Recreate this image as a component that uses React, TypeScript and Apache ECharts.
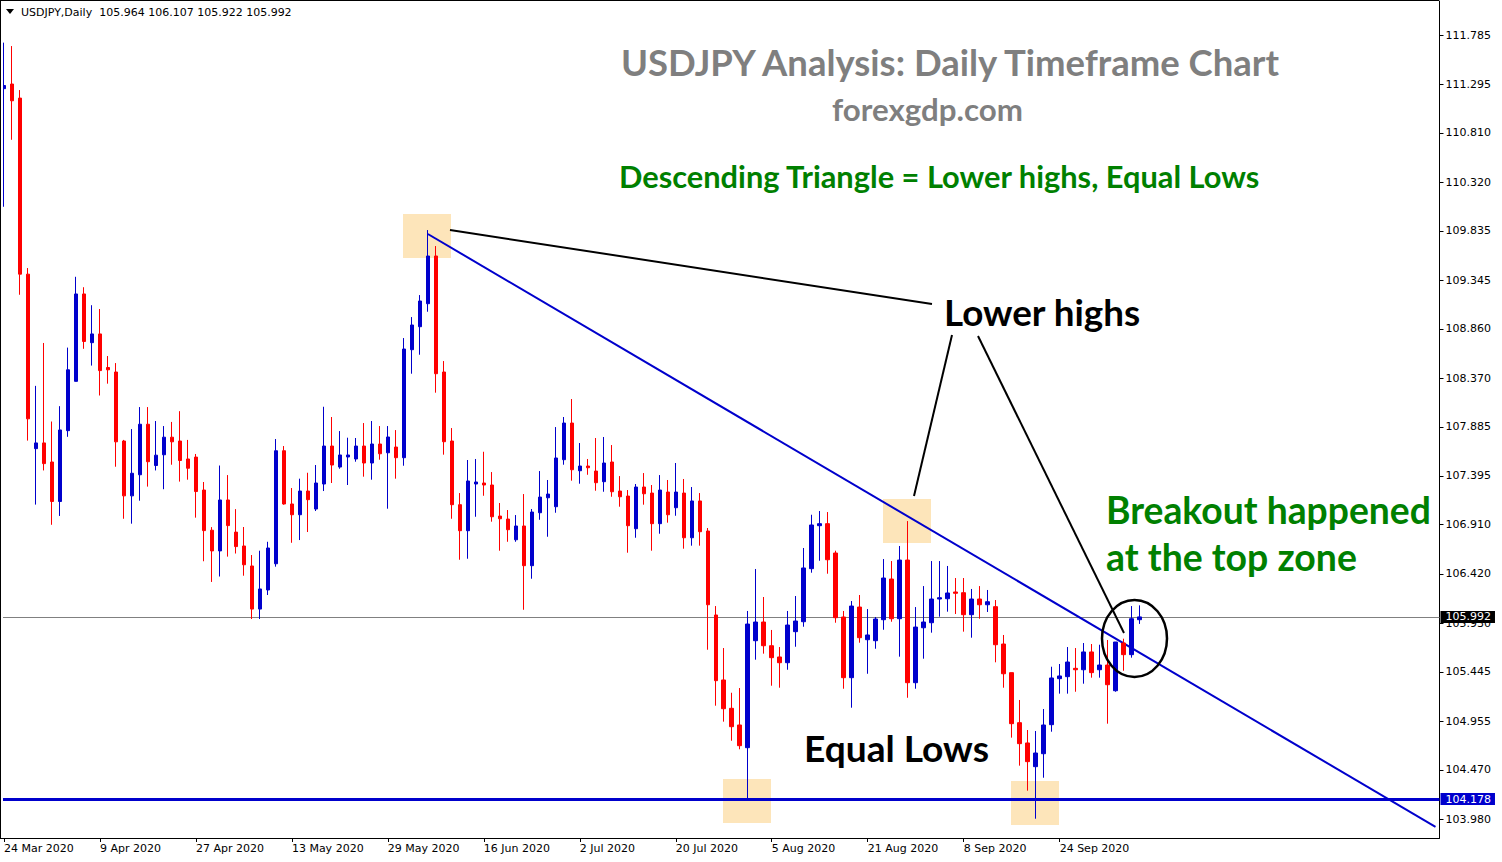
import React, { useEffect, useRef } from "react";
import * as echarts from "echarts";

// ---------- data ----------
const xTickLabels = [
  "24 Mar 2020", "9 Apr 2020", "27 Apr 2020", "13 May 2020", "29 May 2020", "16 Jun 2020",
  "2 Jul 2020", "20 Jul 2020", "5 Aug 2020", "21 Aug 2020", "8 Sep 2020", "24 Sep 2020",
];

const yTickValues = [
  111.785, 111.295, 110.81, 110.32, 109.835, 109.345, 108.86, 108.37, 107.885,
  107.395, 106.91, 106.42, 105.93, 105.445, 104.955, 104.47, 103.98,
];

const opens = [
  111.251, 111.297, 111.157, 109.404, 107.667, 107.724, 107.534, 107.141, 107.846, 108.337,
  109.207, 108.722, 108.809, 108.475, 108.430, 107.743, 107.197, 107.407, 107.910, 107.499,
  107.606, 107.781, 107.743, 107.564, 107.583, 107.255, 106.855, 106.649, 107.156, 106.836,
  106.698, 106.499, 106.070, 106.260, 106.521, 107.646, 107.116, 107.009, 107.245, 107.066,
  107.315, 107.693, 107.484, 107.584, 107.564, 107.693, 107.524, 107.713, 107.626, 107.683,
  107.577, 108.652, 108.881, 109.110, 109.585, 108.430, 107.743, 107.109, 106.850, 107.315,
  107.325, 107.305, 106.996, 106.966, 106.760, 106.897, 106.502, 107.029, 107.178, 107.089,
  107.557, 107.922, 107.447, 107.494, 107.444, 107.338, 107.534, 107.245, 107.195, 106.870,
  107.285, 107.225, 106.920, 107.235, 107.079, 107.225, 106.780, 107.146, 106.847, 106.011,
  105.364, 105.082, 104.916, 104.690, 105.755, 105.941, 105.705, 105.593, 105.536, 105.845,
  105.944, 106.472, 106.900, 106.920, 106.628, 105.991, 105.387, 106.090, 105.765, 105.755,
  105.964, 106.369, 105.974, 106.558, 105.337, 105.884, 105.934, 106.170, 106.173, 106.240,
  106.233, 106.014, 106.170, 106.113, 106.094, 105.722, 105.437, 104.939, 104.737, 104.501,
  104.630, 104.919, 105.377, 105.397, 105.480, 105.466, 105.643, 105.466, 105.513, 105.257,
  105.732, 105.616, 105.964,
];

const highs = [
  111.709, 111.675, 111.237, 109.465, 108.292, 108.719, 107.937, 108.090, 108.673, 109.378,
  109.274, 109.095, 109.057, 108.589, 108.519, 107.754, 107.862, 108.081, 108.081, 107.942,
  107.892, 107.933, 108.040, 107.754, 107.614, 107.335, 106.886, 107.499, 107.404, 107.065,
  106.887, 106.608, 106.651, 106.740, 107.763, 107.693, 107.275, 107.368, 107.427, 107.504,
  108.084, 107.982, 107.842, 107.776, 107.773, 107.922, 107.942, 107.892, 107.892, 107.852,
  108.768, 108.977, 109.196, 109.843, 109.684, 108.539, 107.872, 107.225, 107.554, 107.564,
  107.636, 107.434, 107.126, 107.056, 107.006, 107.215, 107.066, 107.444, 107.355, 107.882,
  107.982, 108.161, 107.723, 107.564, 107.773, 107.783, 107.703, 107.394, 107.255, 107.315,
  107.424, 107.305, 107.404, 107.355, 107.524, 107.365, 107.285, 107.225, 106.877, 106.100,
  105.682, 105.237, 105.284, 106.051, 106.469, 106.190, 105.862, 105.692, 106.051, 106.200,
  106.678, 107.009, 107.046, 107.036, 106.651, 106.051, 106.150, 106.210, 106.070, 105.991,
  106.568, 106.548, 106.698, 106.946, 106.090, 106.299, 106.548, 106.548, 106.499, 106.379,
  106.379, 106.270, 106.299, 106.260, 106.160, 105.812, 105.437, 105.165, 104.866, 104.856,
  105.075, 105.496, 105.523, 105.692, 105.682, 105.732, 105.722, 105.715, 105.762, 105.742,
  105.775, 106.100, 106.107,
];

const lows = [
  110.075, 110.742, 109.199, 107.747, 107.110, 107.450, 106.909, 106.997, 107.785, 108.337,
  108.661, 108.494, 108.196, 108.314, 107.487, 106.969, 106.920, 107.149, 107.289, 107.450,
  107.263, 107.507, 107.339, 107.358, 106.980, 106.546, 106.340, 106.394, 106.592, 106.623,
  106.402, 105.971, 105.971, 106.210, 106.492, 107.109, 106.730, 106.757, 106.837, 107.046,
  107.245, 107.325, 107.467, 107.305, 107.537, 107.388, 107.358, 107.557, 107.069, 107.368,
  107.497, 108.413, 108.602, 109.030, 108.224, 107.607, 106.969, 106.561, 106.571, 106.989,
  107.198, 106.940, 106.651, 106.740, 106.740, 106.063, 106.372, 106.959, 106.790, 107.029,
  107.507, 107.348, 107.318, 107.407, 107.248, 107.238, 107.188, 107.089, 106.631, 106.780,
  107.109, 106.651, 106.820, 106.930, 106.999, 106.671, 106.701, 106.701, 105.665, 105.108,
  104.949, 104.759, 104.674, 104.180, 105.566, 105.626, 105.307, 105.287, 105.466, 105.695,
  105.894, 106.432, 106.551, 106.422, 105.934, 105.277, 105.088, 105.735, 105.426, 105.675,
  105.864, 105.944, 105.596, 105.187, 105.277, 105.576, 105.835, 105.994, 106.044, 106.021,
  105.845, 105.785, 105.974, 106.041, 105.540, 105.287, 104.790, 104.511, 104.262, 103.983,
  104.391, 104.849, 105.228, 105.228, 105.247, 105.327, 105.387, 105.387, 104.929, 105.247,
  105.456, 105.586, 105.922,
];

const closes = [
  111.282, 111.130, 109.404, 107.964, 107.724, 107.518, 107.141, 107.853, 108.452, 109.207,
  108.734, 108.809, 108.444, 108.452, 107.735, 107.197, 107.422, 107.910, 107.537, 107.602,
  107.781, 107.735, 107.549, 107.472, 107.240, 106.851, 106.649, 107.156, 106.901, 106.692,
  106.511, 106.070, 106.270, 106.678, 107.646, 107.116, 107.009, 107.245, 107.159, 107.325,
  107.693, 107.504, 107.604, 107.604, 107.693, 107.524, 107.713, 107.616, 107.783, 107.577,
  108.659, 108.898, 109.137, 109.585, 108.413, 107.736, 107.109, 106.850, 107.345, 107.335,
  107.305, 106.989, 106.969, 106.860, 106.897, 106.502, 107.036, 107.185, 107.215, 107.574,
  107.922, 107.457, 107.494, 107.477, 107.328, 107.524, 107.238, 107.188, 106.900, 107.285,
  107.218, 106.920, 107.255, 107.009, 107.235, 106.780, 107.146, 106.840, 106.113, 105.357,
  105.078, 104.899, 104.710, 105.921, 105.941, 105.705, 105.586, 105.536, 105.911, 105.951,
  106.479, 106.907, 106.920, 106.561, 105.984, 105.387, 106.100, 105.785, 105.812, 105.971,
  106.379, 105.974, 106.558, 105.337, 105.891, 105.941, 106.170, 106.183, 106.230, 106.227,
  106.014, 106.170, 106.113, 106.143, 105.715, 105.426, 104.929, 104.730, 104.551, 104.637,
  104.916, 105.384, 105.404, 105.543, 105.466, 105.643, 105.437, 105.513, 105.317, 105.742,
  105.616, 105.974, 105.992,
];

const currentPrice = 105.992;
const supportLevel = 104.178;
const trendStart = [53, 109.804];
const trendEnd = [179, 103.902];

const yMin = 103.7909;
const yMax = 112.1235;
const totalSlots = 180;

const MONTHS = ["Jan", "Feb", "Mar", "Apr", "May", "Jun", "Jul", "Aug", "Sep", "Oct", "Nov", "Dec"];

function weekdayDates(startUtc: number, n: number): string[] {
  const out: string[] = [];
  let t = startUtc;
  while (out.length < n) {
    const d = new Date(t);
    const wd = d.getUTCDay();
    if (wd !== 0 && wd !== 6) {
      out.push(`${d.getUTCDate()} ${MONTHS[d.getUTCMonth()]} ${d.getUTCFullYear()}`);
    }
    t += 86400000;
  }
  return out;
}

const categories = weekdayDates(Date.UTC(2020, 2, 24), totalSlots);

function fitSize(text: string, target: number, family = "Lato"): number {
  const c = document.createElement("canvas").getContext("2d");
  if (!c) return 32;
  c.font = `bold 100px ${family}`;
  const w = c.measureText(text).width;
  return (100 * target) / w;
}

export default function App() {
  const ref = useRef<HTMLDivElement>(null);

  useEffect(() => {
    document.body.style.margin = "0";
    if (!ref.current) return;
    const chart = echarts.init(ref.current, undefined, { renderer: "svg" });

    const data = opens.map((o, i) => [o, closes[i], lows[i], highs[i]]);
    const last = opens.length - 1;
    const header = `USDJPY,Daily  ${opens[last].toFixed(3)} ${highs[last].toFixed(3)} ${lows[last].toFixed(3)} ${closes[last].toFixed(3)}`;

    const showTick = (i: number) => i % 12 === 0 && i / 12 < xTickLabels.length;

    const ann = (text: string, left: number, baseline: number, width: number, color: string) => {
      const size = fitSize(text, width);
      return {
        type: "text",
        x: left,
        y: baseline - 0.36 * size,
        z: 100,
        style: {
          text,
          font: `bold ${size.toFixed(2)}px Lato`,
          fill: color,
          align: "left",
          verticalAlign: "middle",
        },
      };
    };

    const priceLabel = (bg: string, value: number) => ({
      show: true,
      position: "end",
      distance: 1,
      formatter: () => value.toFixed(3),
      backgroundColor: bg,
      color: "#fff",
      padding: [1, 4, 0, 5],
      fontSize: 11,
      fontFamily: "DejaVu Sans",
    });

    const peach = "#FDE5BA";
    const rect = (x: number, y: number) => ({
      type: "rect",
      z: 1,
      shape: { x, y, width: 48, height: 44 },
      style: { fill: peach },
    });
    const blackLine = (x1: number, y1: number, x2: number, y2: number) => ({
      type: "line",
      z: 100,
      shape: { x1, y1, x2, y2 },
      style: { stroke: "#000", lineWidth: 2 },
    });

    chart.setOption({
      animation: false,
      textStyle: { fontFamily: "DejaVu Sans" },
      grid: { left: -0.5, right: 62.5, top: 1, bottom: 24, containLabel: false },
      xAxis: {
        type: "category",
        data: categories,
        boundaryGap: true,
        axisLine: { show: true, lineStyle: { color: "#000", width: 1 } },
        axisTick: {
          show: true,
          alignWithLabel: true,
          interval: (i: number) => showTick(i),
          length: 4,
          lineStyle: { color: "#000" },
        },
        axisLabel: {
          interval: (i: number) => showTick(i),
          formatter: (_v: string, i: number) => xTickLabels[i / 12] ?? "",
          align: "left",
          margin: 5,
          fontSize: 11,
          color: "#000",
          fontFamily: "DejaVu Sans",
        },
        splitLine: { show: false },
      },
      yAxis: {
        type: "value",
        position: "right",
        min: yMin,
        max: yMax,
        scale: true,
        axisLine: { show: true, lineStyle: { color: "#000", width: 1 } },
        axisTick: { show: true, customValues: yTickValues, length: 4, lineStyle: { color: "#000" } },
        axisLabel: {
          customValues: yTickValues,
          formatter: (v: number) => v.toFixed(3),
          margin: 6,
          fontSize: 11,
          color: "#000",
          fontFamily: "DejaVu Sans",
        },
        splitLine: { show: false },
      },
      series: [
        {
          type: "candlestick",
          data,
          barWidth: 4,
          clip: false,
          z: 5,
          itemStyle: {
            color: "#0000CC",
            color0: "#FF0000",
            borderColor: "#0000CC",
            borderColor0: "#FF0000",
            borderWidth: 1,
          },
          markLine: {
            symbol: ["none", "none"],
            silent: true,
            animation: false,
            precision: 3,
            data: [
              {
                yAxis: currentPrice,
                lineStyle: { color: "#808080", width: 1, type: "solid" },
                label: priceLabel("#000", currentPrice),
              },
              {
                yAxis: supportLevel,
                lineStyle: { color: "#0000CC", width: 3, type: "solid" },
                label: priceLabel("#0000CD", supportLevel),
              },
              [
                {
                  coord: trendStart,
                  lineStyle: { color: "#0000CC", width: 2, type: "solid" },
                  label: { show: false },
                },
                { coord: trendEnd },
              ],
            ],
          },
        },
      ],
      graphic: {
        elements: [
          rect(403, 214),
          rect(883, 499),
          rect(723, 779),
          rect(1011, 781),
          { type: "rect", z: 90, shape: { x: 0, y: 0, width: 3, height: 838 }, style: { fill: "#fff" } },
          { type: "line", z: 100, shape: { x1: 0.5, y1: 0, x2: 0.5, y2: 838 }, style: { stroke: "#000", lineWidth: 1 } },
          { type: "line", z: 100, shape: { x1: 0, y1: 0.5, x2: 1439, y2: 0.5 }, style: { stroke: "#000", lineWidth: 1 } },
          {
            type: "polygon",
            z: 100,
            shape: { points: [[6, 9], [14, 9], [10, 14]] },
            style: { fill: "#000" },
          },
          {
            type: "text",
            x: 21,
            y: 12,
            z: 100,
            style: { text: header, font: "11px DejaVu Sans", fill: "#000", align: "left", verticalAlign: "middle" },
          },
          blackLine(450, 230, 932, 304),
          blackLine(952, 335, 914, 496),
          blackLine(978, 336, 1124, 633),
          {
            type: "ellipse",
            z: 100,
            shape: { cx: 1134.5, cy: 638.5, rx: 32.5, ry: 38.5 },
            style: { stroke: "#000", lineWidth: 2.5, fill: "none" },
          },
          ann("USDJPY Analysis: Daily Timeframe Chart", 621, 75, 663, "#7F7F7F"),
          ann("forexgdp.com", 832, 120, 191, "#7F7F7F"),
          ann("Descending Triangle = Lower highs, Equal Lows", 619, 188, 642, "#008000"),
          ann("Lower highs", 944, 325, 197, "#000"),
          ann("Equal Lows", 804, 761, 185, "#000"),
          ann("Breakout happened", 1106, 523, 325, "#008000"),
          ann("at the top zone", 1106, 570, 251, "#008000"),
        ],
      },
    });

    return () => chart.dispose();
  }, []);

  return (
    <div
      ref={ref}
      style={{ position: "absolute", left: 0, top: 0, width: 1502, height: 862, background: "#fff" }}
    />
  );
}
